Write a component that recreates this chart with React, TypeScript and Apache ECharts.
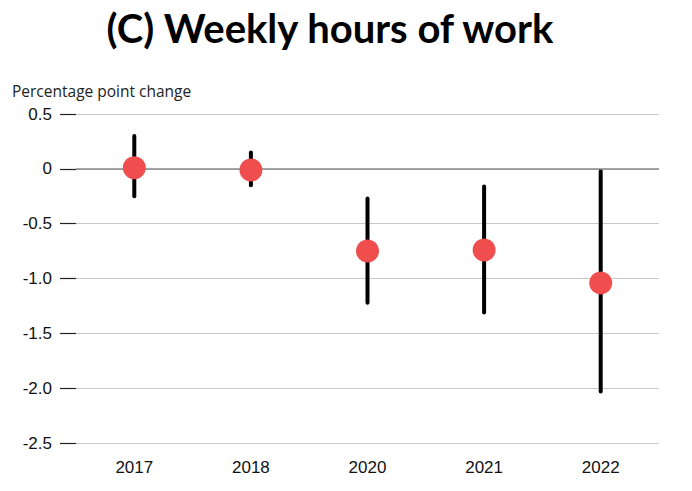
import React, { useEffect, useRef } from "react";
import * as echarts from "echarts";

const categories = ["2017", "2018", "2020", "2021", "2022"];
const pointValues = [0.01, -0.01, -0.75, -0.74, -1.04];
const upperValues = [0.3, 0.15, -0.27, -0.16, -0.02];
const lowerValues = [-0.25, -0.15, -1.22, -1.31, -2.03];
const yTicks = { min: -2.5, max: 0.5, interval: 0.5 };
const titleText = "(C) Weekly hours of work";
const yAxisTitle = "Percentage point change";

export default function App() {
  const ref = useRef<HTMLDivElement>(null);
  useEffect(() => {
    if (!ref.current) return;
    const chart = echarts.init(ref.current, undefined, { renderer: "svg" });
    const barData = categories.map((c, i) => [i, lowerValues[i], upperValues[i]]);
    chart.setOption({
      animation: false,
      backgroundColor: "#ffffff",
      graphic: [
        {
          type: "text",
          x: 330,
          y: 28,
          style: {
            text: titleText,
            font: "bold 40px Lato, 'Open Sans', sans-serif",
            fill: "#000",
            textAlign: "center",
            textVerticalAlign: "middle",
          },
        },
        {
          type: "text",
          x: 12,
          y: 91,
          style: {
            text: yAxisTitle,
            font: "15.5px 'Open Sans', sans-serif",
            fill: "#222",
            textAlign: "left",
            textVerticalAlign: "middle",
          },
        },
      ],
      grid: { left: 76, right: 33, top: 114, bottom: 48 },
      xAxis: {
        type: "category",
        data: categories,
        axisLine: { show: false },
        axisTick: { show: false },
        axisLabel: {
          margin: 16,
          fontSize: 17,
          fontFamily: "'Liberation Sans', Arial, sans-serif",
          color: "#111",
        },
      },
      yAxis: {
        type: "value",
        min: yTicks.min,
        max: yTicks.max,
        interval: yTicks.interval,
        axisLine: { show: false },
        axisTick: { show: true, length: 16, lineStyle: { color: "#222", width: 1.2 } },
        splitLine: { show: true, lineStyle: { color: "#c8c8c8", width: 1 } },
        axisLabel: {
          margin: 24,
          fontSize: 17,
          fontFamily: "'Liberation Sans', Arial, sans-serif",
          color: "#111",
          formatter: (v: number) => (v === 0 ? "0" : v.toFixed(1)),
        },
      },
      series: [
        {
          type: "line",
          data: [],
          markLine: {
            silent: true,
            symbol: "none",
            label: { show: false },
            lineStyle: { color: "#888", width: 1.5, type: "solid" },
            data: [{ yAxis: 0 }],
          },
        },
        {
          type: "custom",
          data: barData,
          z: 3,
          renderItem: (params: any, api: any) => {
            const x = api.value(0);
            const p1 = api.coord([x, api.value(1)]);
            const p2 = api.coord([x, api.value(2)]);
            return {
              type: "line",
              shape: { x1: p1[0], y1: p1[1], x2: p2[0], y2: p2[1] },
              style: { stroke: "#000", lineWidth: 4, lineCap: "round" },
            };
          },
        },
        {
          type: "scatter",
          data: pointValues,
          symbolSize: 23,
          z: 5,
          itemStyle: { color: "#F04E4E", opacity: 1 },
        },
      ],
    });
    return () => chart.dispose();
  }, []);
  return (
    <div
      ref={ref}
      style={{ position: "fixed", left: 0, top: 0, width: 692, height: 491 }}
    />
  );
}
